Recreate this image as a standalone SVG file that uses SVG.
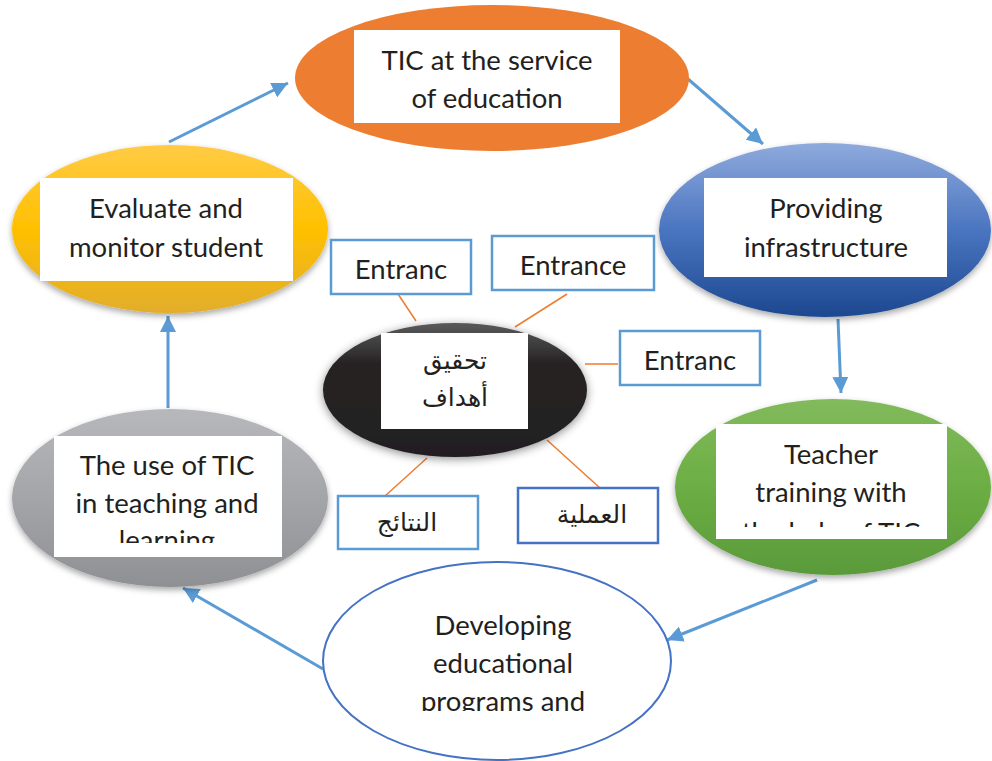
<svg xmlns="http://www.w3.org/2000/svg" width="992" height="761" viewBox="0 0 992 761">
<style>
.t{font-family:Lato,"Liberation Sans",Arial,sans-serif;font-size:27.5px;fill:#231F20;text-anchor:middle}
.ar{font-family:"DejaVu Sans","Noto Sans",sans-serif;font-size:25px;fill:#231F20;text-anchor:middle}
.wb{fill:#FFFFFF}
.eb{fill:#FFFFFF;stroke:#5B9BD5;stroke-width:2.5}
.eb2{fill:#FFFFFF;stroke:#4472C4;stroke-width:2.5}
.arrow{stroke:#5B9BD5;stroke-width:3;fill:none;marker-end:url(#ah)}
.ol{stroke:#ED7D31;stroke-width:1.5;fill:none}
</style>
<defs>
<marker id="ah" markerUnits="userSpaceOnUse" markerWidth="18" markerHeight="16" refX="16" refY="8" orient="auto">
<path d="M0,0 L16,8 L0,16 Z" fill="#5B9BD5"/>
</marker>
<filter id="sh" x="-10%" y="-10%" width="120%" height="125%">
<feDropShadow dx="0" dy="3" stdDeviation="3" flood-color="#000" flood-opacity="0.35"/>
</filter>
<filter id="sh2" x="-15%" y="-20%" width="130%" height="140%">
<feDropShadow dx="0" dy="2" stdDeviation="5" flood-color="#000" flood-opacity="0.45"/>
</filter>
<linearGradient id="gy" x1="0" y1="0" x2="0" y2="1">
<stop offset="0" stop-color="#FFCB45"/><stop offset="0.5" stop-color="#FFC000"/><stop offset="1" stop-color="#E2AD2C"/>
</linearGradient>
<linearGradient id="gb" x1="0" y1="0" x2="0" y2="1">
<stop offset="0" stop-color="#8FAADC"/><stop offset="0.5" stop-color="#4A75C0"/><stop offset="1" stop-color="#1C4890"/>
</linearGradient>
<linearGradient id="gg" x1="0" y1="0" x2="0" y2="1">
<stop offset="0" stop-color="#82BA5C"/><stop offset="0.5" stop-color="#6CAE44"/><stop offset="1" stop-color="#5A9A3A"/>
</linearGradient>
<linearGradient id="ggr" x1="0" y1="0" x2="0" y2="1">
<stop offset="0" stop-color="#B6B8BB"/><stop offset="0.5" stop-color="#A3A5A8"/><stop offset="1" stop-color="#8E9094"/>
</linearGradient>
<linearGradient id="gk" x1="0" y1="0" x2="0" y2="1">
<stop offset="0" stop-color="#5A5A5A"/><stop offset="0.3" stop-color="#262324"/><stop offset="1" stop-color="#231F20"/>
</linearGradient>
<clipPath id="cg"><rect x="54" y="436" width="228" height="107"/></clipPath>
<clipPath id="cgr"><rect x="716" y="424" width="231" height="103"/></clipPath>
<clipPath id="cd"><rect x="340" y="590" width="320" height="121"/></clipPath>
</defs>

<g id="connectors">
<path class="arrow" d="M169,142 L288,83"/>
<path class="arrow" d="M688,79 L763,144"/>
<path class="arrow" d="M838,319 L841,393"/>
<path class="arrow" d="M817,580 L667,640"/>
<path class="arrow" d="M323,669 L183,588"/>
<path class="arrow" d="M168,408 L168,316"/>
<path class="ol" d="M398,294 L416,321"/>
<path class="ol" d="M567,294 L515,327"/>
<path class="ol" d="M585,364 L618,364"/>
<path class="ol" d="M427,458 L385,496"/>
<path class="ol" d="M547,440 L600,488"/>
</g>

<g id="node-tic-service">
<ellipse cx="492" cy="78" rx="197" ry="73" fill="#ED7D31"/>
<rect class="wb" x="354" y="30" width="266" height="93"/>
<text class="t" x="487" y="70">TIC at the service</text>
<text class="t" x="487" y="108">of education</text>
</g>

<g id="node-evaluate">
<ellipse cx="170" cy="229" rx="158" ry="84" fill="url(#gy)" filter="url(#sh)"/>
<rect class="wb" x="40" y="178" width="253" height="103"/>
<text class="t" x="166" y="218">Evaluate and</text>
<text class="t" x="166" y="257">monitor student</text>
</g>

<g id="node-infrastructure">
<ellipse cx="825" cy="230" rx="166" ry="87" fill="url(#gb)" filter="url(#sh)"/>
<rect class="wb" x="704" y="178" width="243" height="99"/>
<text class="t" x="826" y="218">Providing</text>
<text class="t" x="826" y="257">infrastructure</text>
</g>

<g id="node-teacher">
<ellipse cx="833" cy="487" rx="158" ry="88" fill="url(#gg)" filter="url(#sh)"/>
<rect class="wb" x="716" y="424" width="231" height="115"/>
<g clip-path="url(#cgr)">
<text class="t" x="831" y="464">Teacher</text>
<text class="t" x="831" y="502">training with</text>
<text class="t" x="831" y="542">the help of TIC</text>
</g>
</g>

<g id="node-use-tic">
<ellipse cx="170" cy="498" rx="158" ry="89" fill="url(#ggr)" filter="url(#sh)"/>
<rect class="wb" x="54" y="436" width="228" height="121"/>
<g clip-path="url(#cg)">
<text class="t" x="167" y="475">The use of TIC</text>
<text class="t" x="167" y="513">in teaching and</text>
<text class="t" x="167" y="550">learning</text>
</g>
</g>

<g id="node-developing">
<ellipse cx="497" cy="661" rx="174" ry="99" fill="#FFFFFF" stroke="#4472C4" stroke-width="2"/>
<g clip-path="url(#cd)">
<text class="t" x="503" y="635">Developing</text>
<text class="t" x="503" y="673">educational</text>
<text class="t" x="503" y="711">programs and</text>
</g>
</g>

<g id="node-goals">
<ellipse cx="455" cy="390" rx="132" ry="67" fill="url(#gk)" filter="url(#sh2)"/>
<rect class="wb" x="381" y="333" width="147" height="96"/>
<text class="ar" x="455" y="369">تحقيق</text>
<text class="ar" x="455" y="406">أهداف</text>
</g>

<g id="node-entranc-1">
<rect class="eb" x="331" y="240" width="140" height="54"/>
<text class="t" x="401" y="279">Entranc</text>
</g>
<g id="node-entrance-2">
<rect class="eb" x="492" y="236" width="162" height="54"/>
<text class="t" x="573" y="275">Entrance</text>
</g>
<g id="node-entranc-3">
<rect class="eb" x="620" y="331" width="140" height="54"/>
<text class="t" x="690" y="370">Entranc</text>
</g>
<g id="node-results">
<rect class="eb" x="338" y="496" width="140" height="53"/>
<text class="ar" x="407" y="531">النتائج</text>
</g>
<g id="node-process">
<rect class="eb2" x="518" y="488" width="140" height="55"/>
<text class="ar" x="592" y="523">العملية</text>
</g>
</svg>
